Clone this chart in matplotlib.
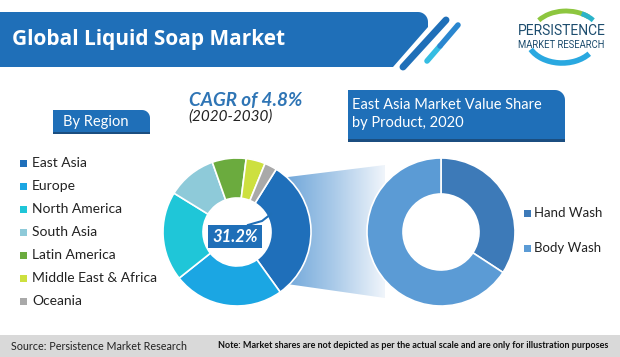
import numpy as np
import matplotlib
matplotlib.use("Agg")
import matplotlib.pyplot as plt
from matplotlib.patches import Arc, Polygon, Rectangle
from matplotlib.colors import LinearSegmentedColormap

W, H = 620, 357

# data
regions = ["East Asia", "Europe", "North America", "South Asia",
           "Latin America", "Middle East & Africa", "Oceania"]
region_share = [31.2, 24.2, 19.5, 10.8, 7.4, 4.2, 2.7]
region_colors = ["#1f6fba", "#1ba6e3", "#1fc6d8", "#8ecad9",
                 "#6bab3e", "#cde03f", "#a9a9a9"]

products = ["Hand Wash", "Body Wash"]
product_share = [34.2, 65.8]
product_colors = ["#3d7ab8", "#5b9bd5"]

title = "Global Liquid Soap Market"
cagr = "CAGR of 4.8%"
period = "(2020-2030)"
highlight = "31.2%"
source = "Source: Persistence Market Research"
note = "Note: Market shares are not depicted as per the actual scale and are only for illustration purposes"

blue = "#1f6fb8"
dark = "#1b4e80"

plt.rcParams['font.family'] = ['Lato', 'DejaVu Sans']


def Y(p):
    # pixel row (from top) -> data y
    return H - p


def tab(ax, x0, y0, x1, y1, r, color, z=2):
    # box with rounded top-right corner, pixel coords
    t = np.linspace(np.pi / 2, 0, 12)
    arc = [(x1 - r + r * np.cos(a), Y(y0 + r - r * np.sin(a))) for a in t]
    pts = [(x0, Y(y0))] + arc + [(x1, Y(y1)), (x0, Y(y1))]
    ax.add_patch(Polygon(pts, closed=True, facecolor=color, edgecolor="none", zorder=z))


def fit(txt, width):
    # scale font so the text is `width` pixels wide
    r = fig.canvas.get_renderer()
    w = txt.get_window_extent(r).width
    txt.set_fontsize(txt.get_fontsize() * width / w)


fig = plt.figure(figsize=(W / 100, H / 100), dpi=100)
ax = fig.add_axes([0, 0, 1, 1])

# header banner
t = np.linspace(np.pi / 2, 0, 12)
pts = [(0, Y(12))] + [(418 + 10 * np.cos(a), Y(22 - 10 * np.sin(a))) for a in t] \
      + [(428, Y(27)), (393, Y(67)), (0, Y(67))]
ax.add_patch(Polygon(pts, closed=True, facecolor=blue, edgecolor="none", zorder=2))
ax.plot([403, 446], [Y(67), Y(20)], color=blue, lw=5, solid_capstyle="round", zorder=2)
ax.plot([427, 440], [Y(61), Y(46)], color="#35bde2", lw=4, solid_capstyle="round", zorder=2)
ax.plot([440, 458], [Y(46), Y(25)], color="#2a86cf", lw=4, solid_capstyle="round", zorder=2)
t_title = ax.text(12, Y(40), title, color="white", fontsize=15, fontweight="bold",
                  family=["Open Sans", "DejaVu Sans"], va="center", ha="left", zorder=3)

# logo
ax.add_patch(Arc((566, Y(36)), 70, 50, theta1=40, theta2=150, color="#8dc63f", lw=3.5, zorder=2))
ax.add_patch(Arc((566, Y(36)), 70, 50, theta1=30, theta2=55, color="#2bb3c9", lw=3.5, zorder=2))
ax.add_patch(Arc((562, Y(38)), 70, 50, theta1=200, theta2=330, color="#29a8e0", lw=4, zorder=2))
t_logo = ax.text(518, Y(31), "PERSISTENCE", color="#1d4d6e", fontsize=12,
                 family=["Roboto", "DejaVu Sans"], ha="left", va="center", zorder=3)
t_logo2 = ax.text(518, Y(44.5), "MARKET RESEARCH", color="#1d4d6e", fontsize=5,
                  family=["Roboto", "DejaVu Sans"], ha="left", va="center", zorder=3)

# by region tab
tab(ax, 53, 110, 150, 133, 8, blue)
ax.add_patch(Rectangle((53, Y(134)), 97, 2, facecolor=dark, edgecolor="none", zorder=2))
ax.text(96, Y(122), "By Region", color="white", fontsize=10.5, ha="center", va="center", zorder=3)

# CAGR
t_cagr = ax.text(189, Y(100), cagr, color="#2f75b5", fontsize=12, fontweight="bold",
                 style="italic", ha="left", va="center")
ax.text(188, Y(117), period, color="#222222", fontsize=11, style="italic",
        ha="left", va="center")

# right title tab
tab(ax, 348, 90, 565, 142, 10, blue)
ax.add_patch(Rectangle((348, Y(142)), 217, 3, facecolor=dark, edgecolor="none", zorder=2))
ax.text(352, Y(105), "East Asia Market Value Share", color="white", fontsize=10.5,
        ha="left", va="center", zorder=3)
ax.text(352, Y(123), "by Product, 2020", color="white", fontsize=10.5,
        ha="left", va="center", zorder=3)

# gradient connector
grad = LinearSegmentedColormap.from_list("g", ["#6aa3d8", "#a8c9e8", "#f0f5fb"])
conn = Polygon([(280, Y(178)), (385, Y(165)), (385, Y(298)), (280, Y(283))],
               closed=True, facecolor="none", edgecolor="none")
ax.add_patch(conn)
im = ax.imshow(np.linspace(0, 1, 200).reshape(1, -1), cmap=grad, aspect="auto",
               extent=(280, 385, Y(298), Y(165)), zorder=0.5)
im.set_clip_path(conn)

# donuts
ax.pie(region_share, colors=region_colors, startangle=58, counterclock=False,
       radius=74, center=(237, Y(232)),
       wedgeprops=dict(width=40, edgecolor="white", linewidth=1.2))
ax.pie(product_share, colors=product_colors, startangle=90, counterclock=False,
       radius=74, center=(441, Y(232)),
       wedgeprops=dict(width=36, edgecolor="white", linewidth=1.2))

# highlight label
ax.plot([248, 262, 271], [Y(225), Y(221), Y(214)], color=blue, lw=1.5, zorder=4)
ax.add_patch(Rectangle((208, Y(248)), 54, 23, facecolor=blue, edgecolor="none", zorder=4))
ax.text(235, Y(236.5), highlight, color="white", fontsize=12, fontweight="bold",
        style="italic", ha="center", va="center", zorder=5)

# legends
for i, (name, c) in enumerate(zip(regions, region_colors)):
    yy = 163 + 23 * i
    ax.add_patch(Rectangle((20, Y(yy + 3.5)), 7, 7, facecolor=c, edgecolor="none"))
    ax.text(32, Y(yy), name, color="#222222", fontsize=10, ha="left", va="center")

for i, (name, c) in enumerate(zip(products, product_colors)):
    yy = 213 + 35 * i
    ax.add_patch(Rectangle((524, Y(yy + 3.5)), 7, 7, facecolor=c, edgecolor="none"))
    ax.text(534, Y(yy), name, color="#222222", fontsize=9.5, ha="left", va="center")

# footer
ax.add_patch(Rectangle((0, 0), W, Y(335), facecolor="#d9d9d9", edgecolor="none", zorder=1))
t_src = ax.text(11, Y(346), source, color="#222222", fontsize=9,
                ha="left", va="center", zorder=2)
t_note = ax.text(218, Y(346), note, color="#111111", fontsize=7, fontweight="bold",
                 ha="left", va="center", zorder=2)

ax.set_xlim(0, W)
ax.set_ylim(0, H)
ax.set_aspect("auto")
ax.axis("off")

fit(t_title, 274)
fit(t_cagr, 113)
fit(t_logo, 88)
fit(t_logo2, 88)
fit(t_src, 177)
fit(t_note, 395)

fig.savefig("out.png", dpi=100, facecolor="white")
